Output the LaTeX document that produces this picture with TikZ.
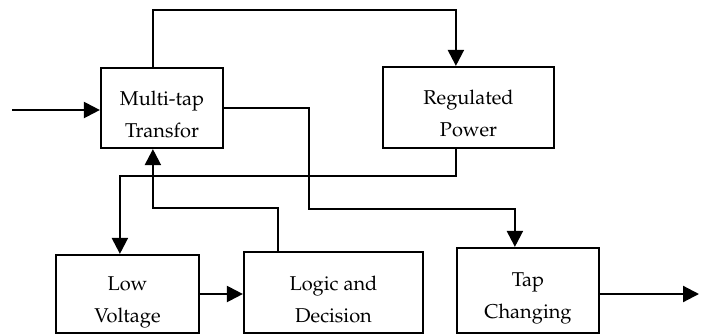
\documentclass[tikz,border=0pt]{standalone}
\usepackage[T1]{fontenc}
\usepackage{mathpazo}
\usetikzlibrary{arrows.meta,calc}
\begin{document}
\begin{tikzpicture}[x=1pt,y=-1pt,
  blk/.style={draw,line width=2.2pt,inner sep=0pt},
  txt/.style={inner sep=0pt,align=center,font=\fontsize{20}{32}\selectfont},
  conn/.style={line width=2.2pt},
  arr/.style={conn,-{Triangle[length=16pt,width=16pt]}}]
\useasboundingbox (0,0) rectangle (704,335);
\node[blk,minimum width=122pt,minimum height=80pt] (mt) at (162,108) {};
\node[blk,minimum width=171pt,minimum height=81pt] (rp) at (468.5,107.5) {};
\node[blk,minimum width=143pt,minimum height=78pt] (lv) at (127.5,294) {};
\node[blk,minimum width=179pt,minimum height=81pt] (ld) at (333.5,292.5) {};
\node[blk,minimum width=142pt,minimum height=85pt] (tc) at (528,290.5) {};
\node[txt] (mtt) at ($(mt)+(0,6)$) {Multi-tap\\Transfor};
\node[txt] (rpt) at ($(rp)+(0,6)$) {Regulated\\Power};
\node[txt] (lvt) at ($(lv)+(0,8)$) {Low\\Voltage};
\node[txt] (ldt) at ($(ld)+(0,7)$) {Logic and\\Decision};
\node[txt] (tct) at ($(tc)+(0,8)$) {Tap\\Changing};
\coordinate (in) at (12,110);
\coordinate (out) at (699,294);
\draw[arr] (in) -- (in -| mt.west);
\draw[arr] ([xshift=53pt]mt.north west) -- ++(0,-57) -| ([xshift=74pt]rp.north west);
\draw[arr] (mt.east) -- ++(85,0) -- ++(0,101) -| ([xshift=59pt]tc.north west);
\draw[arr] ([xshift=74pt]rp.south west) -- ++(0,27) -| ([xshift=65pt]lv.north west);
\draw[arr] (lv.east) -- (lv.east -| ld.west);
\draw[arr] ([xshift=35pt]ld.north west) -- ++(0,-43) -| ([xshift=53pt]mt.south west);
\draw[arr] (out -| tc.east) -- (out);
\end{tikzpicture}
\end{document}
